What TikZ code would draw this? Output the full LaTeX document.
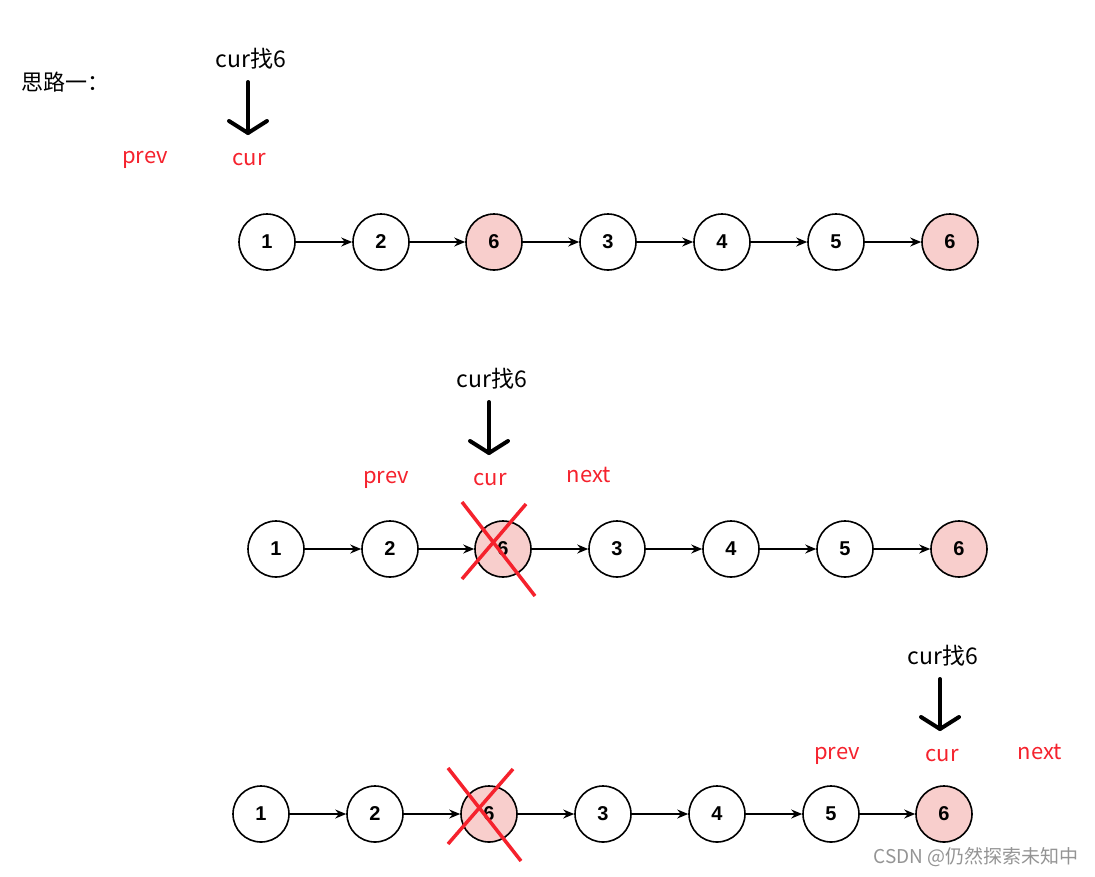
\documentclass[tikz,border=0pt]{standalone}
\usepackage{fontspec}
\setmainfont{Liberation Sans}
\newfontfamily\cjk{Noto Sans CJK SC}
\usetikzlibrary{arrows.meta}
\definecolor{pinkfill}{HTML}{F8CECC}
\definecolor{lblred}{HTML}{F5222D}
\tikzset{
  lnode/.style={circle,draw=black,line width=1.6pt,minimum size=56pt,inner sep=0pt,fill=white,font=\fontsize{20}{20}\selectfont\bfseries},
  hl/.style={fill=pinkfill},
  link/.style={-{Stealth[length=11pt,width=9pt]},line width=1.3pt},
  redlbl/.style={text=lblred,font=\cjk\fontsize{22}{22}\selectfont,inner sep=0pt},
  blklbl/.style={text=black,font=\cjk\fontsize{23}{23}\selectfont,inner sep=0pt},
  hand/.style={line width=4pt,line cap=round,line join=round},
  cross/.style={draw=lblred,line width=3.5pt}
}
\begin{document}
\begin{tikzpicture}[x=1pt,y=-1pt]
\useasboundingbox (0,0) rectangle (1095,876);
% title
\node[blklbl,font=\cjk\fontsize{22}{22}\selectfont] (title) at (65,82) {思路一：};
% ---- row 1
\foreach \i/\x/\t/\s in {a1/267/1/,a2/381/2/,a3/494/6/hl,a4/608/3/,a5/722/4/,a6/836/5/,a7/950/6/hl}
  \node[lnode,\s] (\i) at (\x,242) {\t};
\foreach \p/\q in {a1/a2,a2/a3,a3/a4,a4/a5,a5/a6,a6/a7} \draw[link] (\p) -- (\q);
\node[blklbl] (c1) at (251,59) {cur找6};
\coordinate (c1s) at (248,82); \coordinate (c1e) at (248,133);
\draw[hand] (c1s) -- (c1e);
\draw[hand] (229,121) -- (c1e) -- (267,121);
\node[redlbl] (p1) at (145,160) {prev};
\node[redlbl] (u1) at (249,160) {cur};
% ---- row 2
\foreach \i/\x/\t/\s in {b1/276/1/,b2/390/2/,b3/503/6/hl,b4/617/3/,b5/731/4/,b6/845/5/,b7/959/6/hl}
  \node[lnode,\s] (\i) at (\x,549) {\t};
\foreach \p/\q in {b1/b2,b2/b3,b3/b4,b4/b5,b5/b6,b6/b7} \draw[link] (\p) -- (\q);
\node[blklbl] (c2) at (492,379) {cur找6};
\coordinate (c2e) at (489,453);
\draw[hand] (489,402) -- (c2e);
\draw[hand] (470,441) -- (c2e) -- (508,441);
\node[redlbl] (p2) at (386,480) {prev};
\node[redlbl] (u2) at (490,480) {cur};
\node[redlbl] (n2) at (589,475) {next};
\draw[cross] (462,502) -- (535,596);
\draw[cross] (526,504) -- (462,579);
% ---- row 3
\foreach \i/\x/\t/\s in {d1/261/1/,d2/375/2/,d3/489/6/hl,d4/603/3/,d5/717/4/,d6/831/5/,d7/944/6/hl}
  \node[lnode,\s] (\i) at (\x,814) {\t};
\foreach \p/\q in {d1/d2,d2/d3,d3/d4,d4/d5,d5/d6,d6/d7} \draw[link] (\p) -- (\q);
\node[blklbl] (c3) at (943,656) {cur找6};
\coordinate (c3e) at (940,729);
\draw[hand] (940,679) -- (c3e);
\draw[hand] (921,717) -- (c3e) -- (959,717);
\node[redlbl] (p3) at (837,756) {prev};
\node[redlbl] (u3) at (942,756) {cur};
\node[redlbl] (n3) at (1040,752) {next};
\draw[cross] (448,768) -- (521,861);
\draw[cross] (513,769) -- (448,844);
% watermark
\node[text=black!42,font=\cjk\fontsize{19}{19}\selectfont,inner sep=0pt] (wm) at (976,857) {CSDN @仍然探索未知中};
\end{tikzpicture}
\end{document}
